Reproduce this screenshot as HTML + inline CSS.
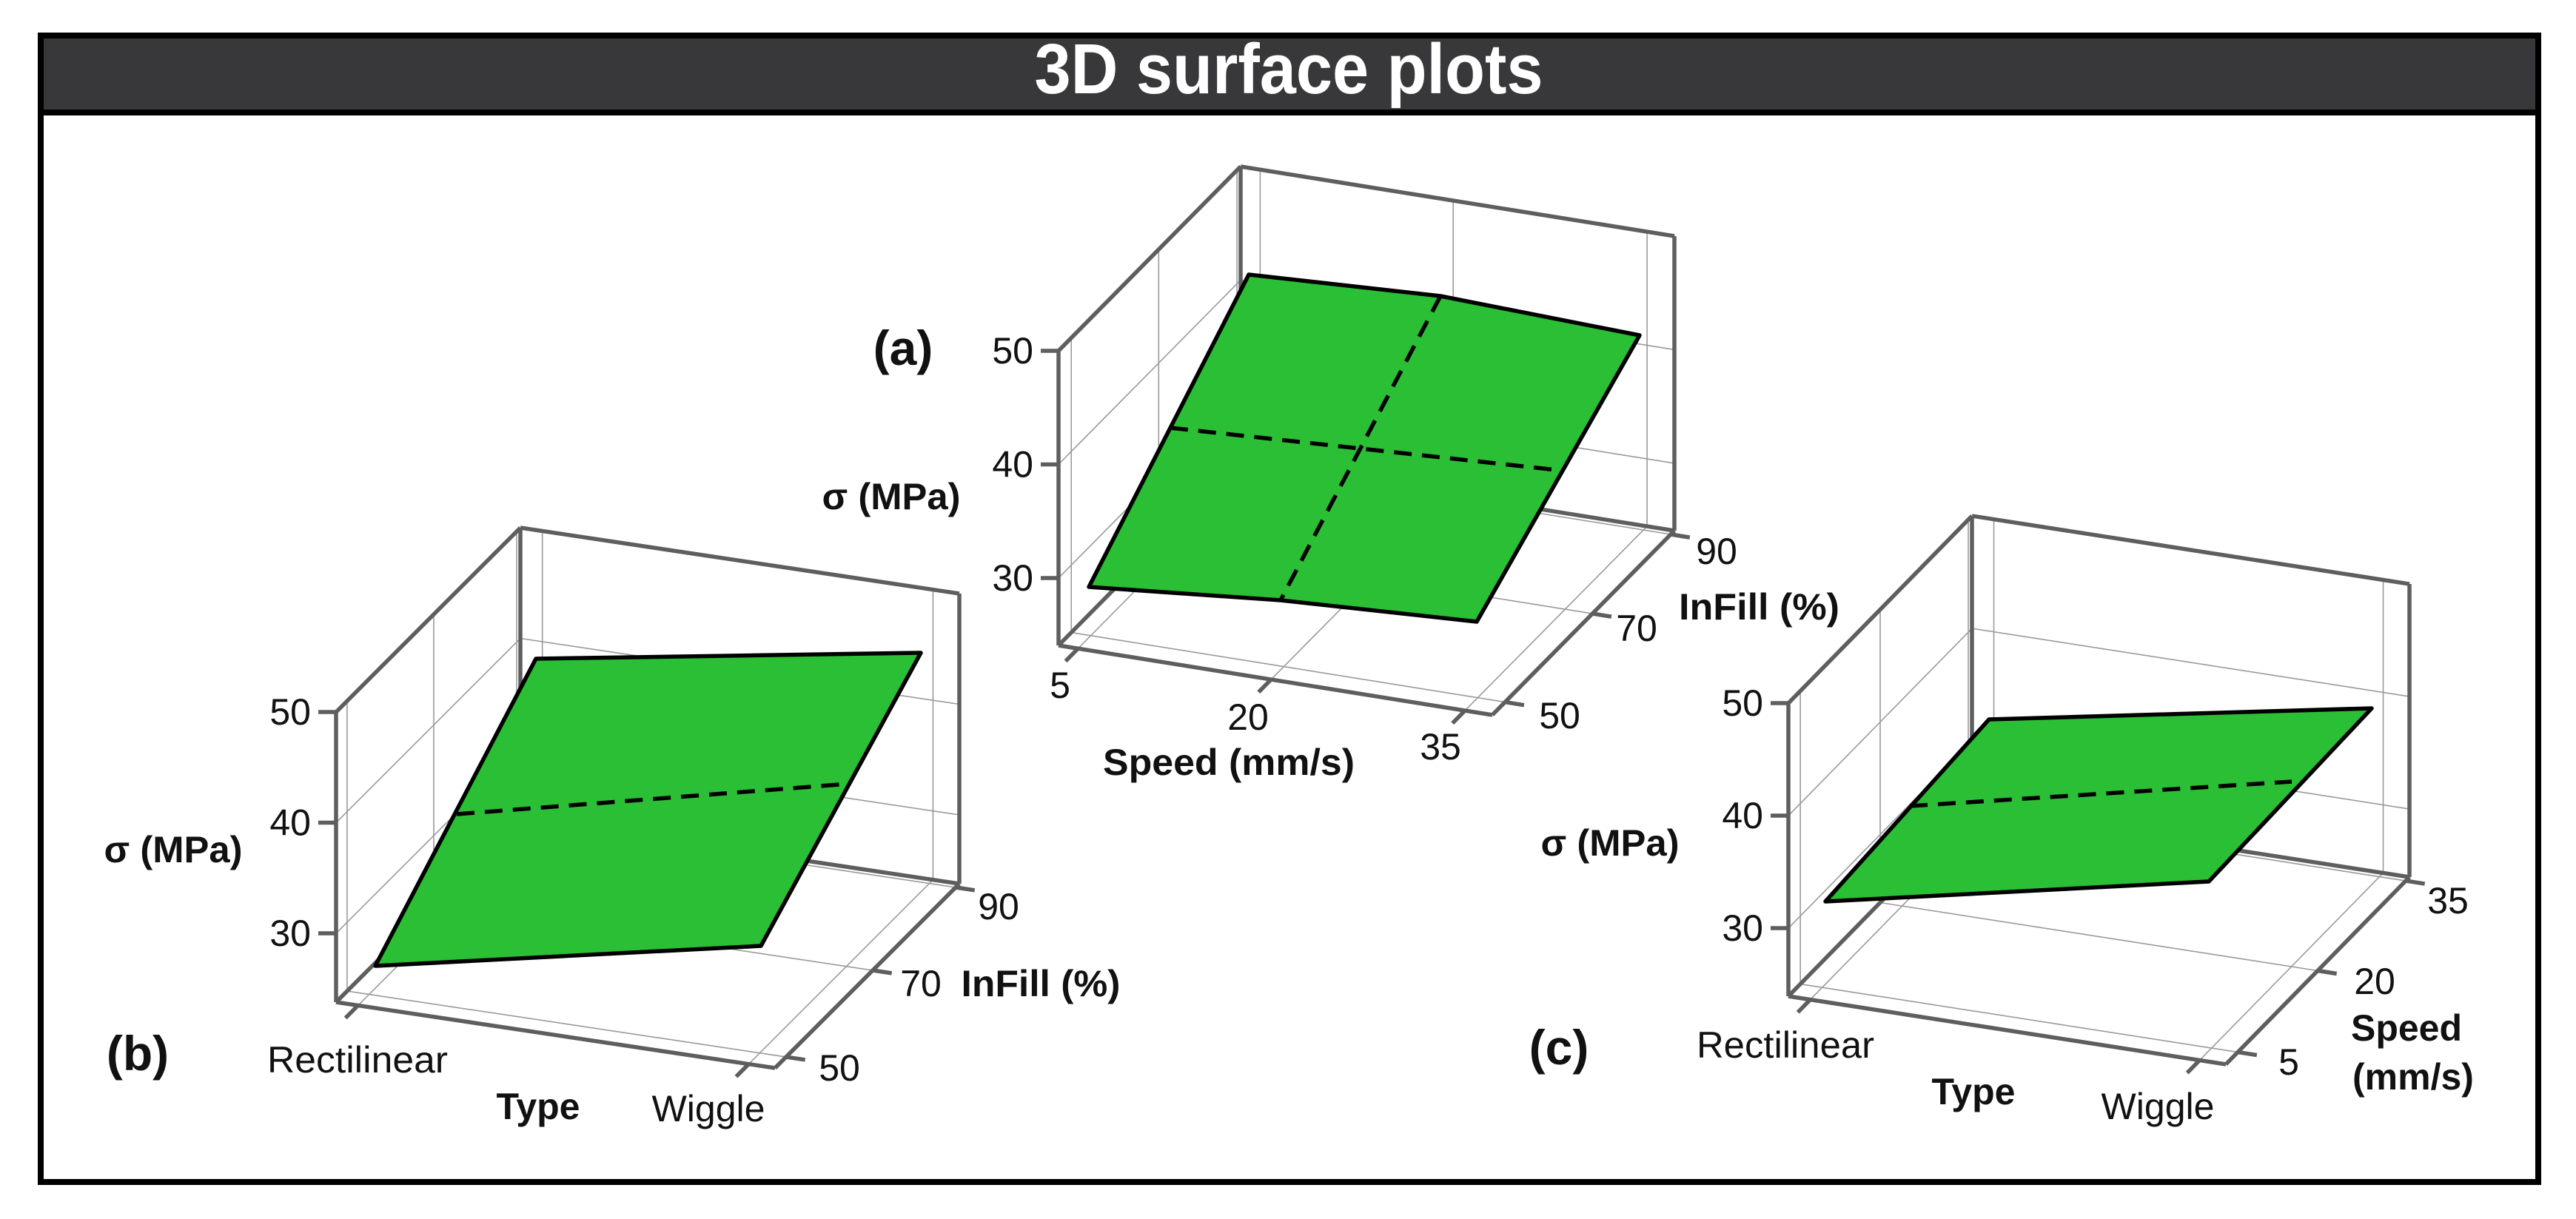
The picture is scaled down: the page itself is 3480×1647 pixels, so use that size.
<!DOCTYPE html>
<html><head><meta charset="utf-8"><style>
html,body{margin:0;padding:0;background:#fff;}
svg{display:block;}
text{font-family:"Liberation Sans",Arial,sans-serif;fill:#111;}
</style></head><body>
<svg id="s" xmlns="http://www.w3.org/2000/svg" width="3480" height="1647" viewBox="0 0 3480 1647">
<rect x="0" y="0" width="3480" height="1647" fill="#fff"/>
<rect x="55" y="48" width="3374" height="1549" fill="#fff" stroke="#000" stroke-width="8"/>
<rect x="59" y="52" width="3366" height="96" fill="#38383a"/>
<line x1="55" y1="152" x2="3429" y2="152" stroke="#000" stroke-width="8"/>
<text x="1741" y="126" text-anchor="middle" font-size="96" font-weight="bold" style="fill:#fff" textLength="687" lengthAdjust="spacingAndGlyphs">3D surface plots</text>
<g id="g"></g>
</svg>
<script>
var NS="http://www.w3.org/2000/svg",G=document.getElementById("g");
function el(t,a,txt){var e=document.createElementNS(NS,t);for(var k in a)e.setAttribute(k,a[k]);if(txt)e.textContent=txt;G.appendChild(e);return e;}
function ln(a,b,w,c,d){var o={x1:a[0],y1:a[1],x2:b[0],y2:b[1],stroke:c,"stroke-width":w,"stroke-linecap":"butt"};if(d)o["stroke-dasharray"]=d;el("line",o);}
function tx(x,y,s,opt){opt=opt||{};var a={x:x,y:y,"font-size":opt.fs||48,"text-anchor":opt.anchor||"middle","dominant-baseline":"central"};if(opt.b)a["font-weight"]="bold";if(opt.w){a.textLength=opt.w;a.lengthAdjust="spacingAndGlyphs";}el("text",a,s);}
function plot(p){
 var P=function(u,v,w){return [p.O[0]+p.U[0]*u+p.V[0]*v, p.O[1]+p.U[1]*u+p.V[1]*v-(w-p.wmin)*p.k];};
 var TH=5.5,TC="#5e5e5e",GC="#9a9a9a",GW=1.6,mx=50,mn=p.wmin;
 // grid floor
 p.ut.forEach(function(u){ln(P(u,0,mn),P(u,1,mn),GW,GC);ln(P(u,1,mn),P(u,1,mx),GW,GC);});
 p.vt.forEach(function(v){ln(P(0,v,mn),P(1,v,mn),GW,GC);ln(P(0,v,mn),P(0,v,mx),GW,GC);});
 [30,40].forEach(function(w){ln(P(0,0,w),P(0,1,w),GW,GC);ln(P(0,1,w),P(1,1,w),GW,GC);});
 // box
 ln(P(0,0,mn),P(0,0,mx),TH,TC);ln(P(0,0,mx),P(0,1,mx),TH,TC);ln(P(0,1,mx),P(1,1,mx),TH,TC);
 ln(P(1,1,mx),P(1,1,mn),TH,TC);ln(P(0,1,mx),P(0,1,mn),TH,TC);
 ln(P(0,0,mn),P(1,0,mn),TH,TC);ln(P(1,0,mn),P(1,1,mn),TH,TC);ln(P(0,1,mn),P(1,1,mn),TH,TC);ln(P(0,0,mn),P(0,1,mn),TH,TC);
 // ticks
 [30,40,50].forEach(function(w){var q=P(0,0,w);ln([q[0]-24,q[1]],q,TH,TC);});
 var vl=Math.hypot(p.V[0],p.V[1]),ul=Math.hypot(p.U[0],p.U[1]);
 p.ut.forEach(function(u){var q=P(u,0,mn);ln(q,[q[0]-p.V[0]/vl*24,q[1]-p.V[1]/vl*24],TH,TC);});
 p.vt.forEach(function(v){var q=P(1,v,mn);ln(q,[q[0]+p.U[0]/ul*26,q[1]+p.U[1]/ul*26],TH,TC);});
 // surface
 el("polygon",{points:p.surf.map(function(a){return a.join(",")}).join(" "),fill:"#2bbf35",stroke:"#000","stroke-width":5.5,"stroke-linejoin":"round"});
 p.dash.forEach(function(d){ln(d[0],d[1],5.5,"#000","24 14");});
 // z labels
 [[50,"50"],[40,"40"],[30,"30"]].forEach(function(z){var q=P(0,0,z[0]);tx(q[0]-34,q[1],z[1],{anchor:"end",fs:50});});
}
plot({O:[1430,872],U:[586,94],V:[246,-249],wmin:24.07,k:15.35,ut:[.045,.49,.937],vt:[.07,.55,.98],
 surf:[[1687,371],[1946,400],[2215,453],[1995,840],[1730,811],[1471,793]],
 dash:[[[1581,578],[2103,635]],[[1946,400],[1730,811]]]});
plot({O:[454,1354],U:[593,89],V:[249,-249],wmin:23.78,k:14.95,ut:[.05,.94],vt:[.06,.53,.98],
 surf:[[724,890],[1244,882],[1028,1278],[507,1305]],
 dash:[[[617,1100],[1134,1060]]]});
plot({O:[2416,1346],U:[591,92],V:[248,-253],wmin:23.95,k:15.2,ut:[.05,.94],vt:[.065,.5,.98],
 surf:[[2687,972],[3204,957],[2984,1191],[2466,1218]],
 dash:[[[2580,1089],[3096,1056]]]});
// labels (a)
tx(1220,470,"(a)",{b:1,fs:66});
tx(1204,671,"σ (MPa)",{b:1,fs:50,w:187});
tx(1432,926,"5",{fs:50});tx(1686,969,"20",{fs:50});tx(1946,1009,"35",{fs:50});
tx(1660,1030,"Speed (mm/s)",{b:1,fs:50,w:340});
tx(2107,967,"50",{fs:50});tx(2211,849,"70",{fs:50});tx(2319,745,"90",{fs:50});
tx(2268,820,"InFill (%)",{b:1,fs:50,anchor:"start",w:217});
// (b)
tx(186,1423,"(b)",{b:1,fs:66});
tx(234,1148,"σ (MPa)",{b:1,fs:50,w:187});
tx(483,1432,"Rectilinear",{fs:50,w:244});
tx(727,1495,"Type",{b:1,fs:50});
tx(957,1498,"Wiggle",{fs:50,w:153});
tx(1134,1443,"50",{fs:50});tx(1244,1329,"70",{fs:50});tx(1349,1225,"90",{fs:50});
tx(1406,1329,"InFill (%)",{b:1,fs:50,w:215});
// (c)
tx(2106,1415,"(c)",{b:1,fs:66});
tx(2175,1139,"σ (MPa)",{b:1,fs:50,w:187});
tx(2412,1412,"Rectilinear",{fs:50,w:240});
tx(2666,1475,"Type",{b:1,fs:50});
tx(2915,1495,"Wiggle",{fs:50,w:153});
tx(3092,1435,"5",{fs:50});tx(3208,1326,"20",{fs:50});tx(3307,1217,"35",{fs:50});
tx(3251,1389,"Speed",{b:1,fs:50});
tx(3260,1455,"(mm/s)",{b:1,fs:50});
</script>
</body></html>
